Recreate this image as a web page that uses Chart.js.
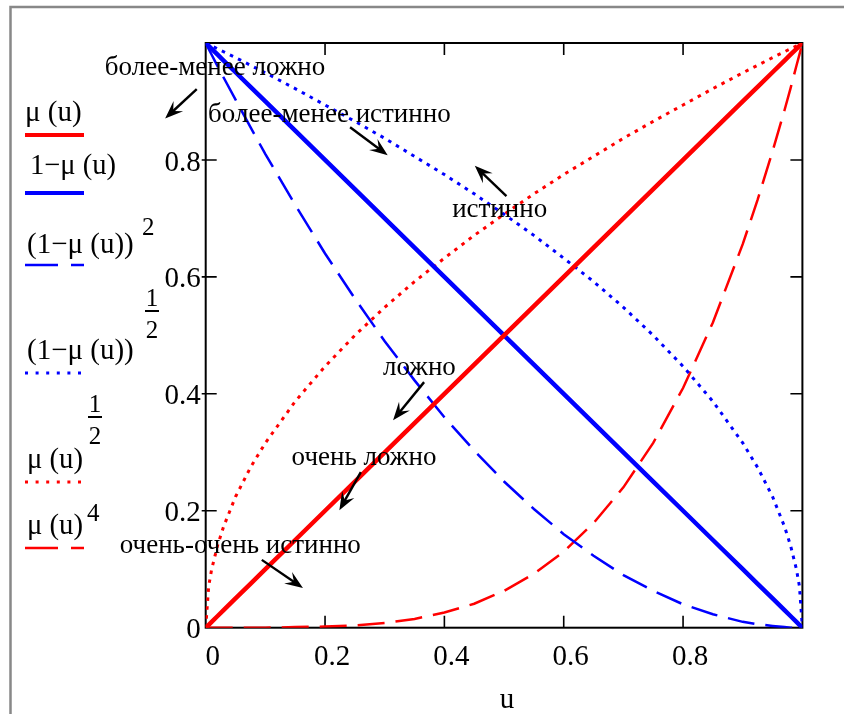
<!DOCTYPE html>
<html>
<head>
<meta charset="utf-8">
<script src="https://cdn.jsdelivr.net/npm/chart.js@4.4.1/dist/chart.umd.min.js"></script>
<style>
    body { margin: 0; background: #fff; }
    canvas { display: block; }
</style>
</head>
<body>
<canvas id="plot" width="844" height="714"></canvas>
<script>
// ===============================
// Data
// ===============================

const uValues = [0, 0.005, 0.01, 0.02, 0.03, 0.05, 0.075, 0.1, 0.15, 0.2, 0.25, 0.3, 0.35, 0.4, 0.45, 0.5,
    0.55, 0.6, 0.65, 0.7, 0.75, 0.8, 0.85, 0.9, 0.925, 0.95, 0.97, 0.98, 0.99, 0.995, 1];

const muValues = [0, 0.005, 0.01, 0.02, 0.03, 0.05, 0.075, 0.1, 0.15, 0.2, 0.25, 0.3, 0.35, 0.4, 0.45, 0.5,
    0.55, 0.6, 0.65, 0.7, 0.75, 0.8, 0.85, 0.9, 0.925, 0.95, 0.97, 0.98, 0.99, 0.995, 1];

const oneMinusMu = [1, 0.995, 0.99, 0.98, 0.97, 0.95, 0.925, 0.9, 0.85, 0.8, 0.75, 0.7, 0.65, 0.6, 0.55, 0.5,
    0.45, 0.4, 0.35, 0.3, 0.25, 0.2, 0.15, 0.1, 0.075, 0.05, 0.03, 0.02, 0.01, 0.005, 0];

const oneMinusMuSq = [1, 0.99, 0.98, 0.96, 0.941, 0.903, 0.856, 0.81, 0.723, 0.64, 0.563, 0.49, 0.423, 0.36, 0.303, 0.25,
    0.203, 0.16, 0.123, 0.09, 0.063, 0.04, 0.023, 0.01, 0.006, 0.003, 0.001, 0, 0, 0, 0];

const oneMinusMuSqrt = [1, 0.997, 0.995, 0.99, 0.985, 0.975, 0.962, 0.949, 0.922, 0.894, 0.866, 0.837, 0.806, 0.775, 0.742, 0.707,
    0.671, 0.632, 0.592, 0.548, 0.5, 0.447, 0.387, 0.316, 0.274, 0.224, 0.173, 0.141, 0.1, 0.071, 0];

const muSqrt = [0, 0.071, 0.1, 0.141, 0.173, 0.224, 0.274, 0.316, 0.387, 0.447, 0.5, 0.548, 0.592, 0.632, 0.671, 0.707,
    0.742, 0.775, 0.806, 0.837, 0.866, 0.894, 0.922, 0.949, 0.962, 0.975, 0.985, 0.99, 0.995, 0.997, 1];

const muPow4 = [0, 0, 0, 0, 0, 0, 0, 0, 0.001, 0.002, 0.004, 0.008, 0.015, 0.026, 0.041, 0.063,
    0.092, 0.13, 0.179, 0.24, 0.316, 0.41, 0.522, 0.656, 0.732, 0.815, 0.885, 0.922, 0.961, 0.98, 1];

const xTicks = [0, 0.2, 0.4, 0.6, 0.8];
const yTicks = [0, 0.2, 0.4, 0.6, 0.8];

// notes: text at (x, y) in axis units, arrow from tail to head
const notes = [
    { text: "более-менее ложно",   x: -0.169, y: 0.945, tail: [-0.015, 0.921], head: [-0.068, 0.871] },
    { text: "более-менее истинно", x: 0.004,  y: 0.865, tail: [0.242, 0.856],  head: [0.305, 0.808] },
    { text: "истинно",             x: 0.413,  y: 0.702, tail: [0.504, 0.738],  head: [0.451, 0.790] },
    { text: "ложно",               x: 0.297,  y: 0.432, tail: [0.366, 0.420],  head: [0.314, 0.355] },
    { text: "очень ложно",         x: 0.144,  y: 0.278, tail: [0.260, 0.266],  head: [0.224, 0.201] },
    { text: "очень-очень истинно", x: -0.144, y: 0.128, tail: [0.094, 0.116],  head: [0.163, 0.068] }
];

const RED = "#ff0000";
const BLUE = "#0000ff";
const SERIF = "'Liberation Serif', 'Times New Roman', serif";

function points(values){
    return uValues.map(function(u, i){ return { x: u, y: values[i] }; });
}

// ===============================
// Legend drawing (Mathcad style, left side)
// ===============================

function drawLegend(ctx, datasets){

    ctx.save();
    ctx.fillStyle = "#000";
    ctx.textBaseline = "alphabetic";
    ctx.textAlign = "left";

    const big = "29px " + SERIF;
    const small = "25px " + SERIF;

    function txt(s, x, y, font, w){
        ctx.font = font;
        if(w){
            ctx.fillText(s, x, y, w);
        }else{
            ctx.fillText(s, x, y);
        }
    }

    function frac(cx, y){
        ctx.font = small;
        ctx.textAlign = "center";
        ctx.fillText("1", cx, y);
        ctx.fillText("2", cx, y + 32);
        ctx.textAlign = "left";
        ctx.fillRect(cx - 7, y + 4, 14, 2);
    }

    txt("\u03bc (u)", 25, 121, big, 58);
    txt("1\u2212\u03bc (u)", 30, 174, big, 86);
    txt("(1\u2212\u03bc (u))", 27, 253, big, 111);
    txt("2", 142, 235, small);
    frac(152, 306);
    txt("(1\u2212\u03bc (u))", 27, 359, big, 111);
    frac(95, 412);
    txt("\u03bc (u)", 27, 468, big, 56);
    txt("\u03bc (u)", 27, 534, big, 56);
    txt("4", 87, 521, small);

    const lineY = [135, 193, 265, 373, 482, 548];

    datasets.forEach(function(ds, i){
        ctx.beginPath();
        ctx.strokeStyle = ds.borderColor;
        ctx.lineWidth = ds.legendWidth;
        ctx.setLineDash(ds.legendDash);
        ctx.moveTo(25, lineY[i]);
        ctx.lineTo(84, lineY[i]);
        ctx.stroke();
    });

    ctx.restore();
}

function drawArrow(ctx, x1, y1, x2, y2){
    const ang = Math.atan2(y2 - y1, x2 - x1);
    ctx.beginPath();
    ctx.moveTo(x1, y1);
    ctx.lineTo(x2 - Math.cos(ang) * 8, y2 - Math.sin(ang) * 8);
    ctx.stroke();
    ctx.save();
    ctx.translate(x2, y2);
    ctx.rotate(ang);
    ctx.beginPath();
    ctx.moveTo(0, 0);
    ctx.lineTo(-18, -7);
    ctx.lineTo(-11, 0);
    ctx.lineTo(-18, 7);
    ctx.closePath();
    ctx.fill();
    ctx.restore();
}

// ===============================
// Plugin: frame, ticks, labels
// ===============================

const mathcadPlugin = {

    id: "mathcad",

    beforeDatasetsDraw: function(chart){
        const ctx = chart.ctx;
        const a = chart.chartArea;
        const xs = chart.scales.x;
        const ys = chart.scales.y;

        ctx.save();
        ctx.strokeStyle = "#000";
        ctx.lineWidth = 2;
        ctx.strokeRect(a.left, a.top, a.right - a.left, a.bottom - a.top);

        ctx.lineWidth = 1.6;
        xTicks.slice(1).forEach(function(v){
            const x = xs.getPixelForValue(v);
            ctx.beginPath();
            ctx.moveTo(x, a.bottom); ctx.lineTo(x, a.bottom - 12);
            ctx.moveTo(x, a.top); ctx.lineTo(x, a.top + 12);
            ctx.stroke();
        });
        yTicks.slice(1).forEach(function(v){
            const y = ys.getPixelForValue(v);
            ctx.beginPath();
            ctx.moveTo(a.left - 4, y); ctx.lineTo(a.left + 11, y);
            ctx.moveTo(a.right, y); ctx.lineTo(a.right - 12, y);
            ctx.stroke();
        });
        ctx.restore();
    },

    afterDraw: function(chart){
        const ctx = chart.ctx;
        const a = chart.chartArea;
        const xs = chart.scales.x;
        const ys = chart.scales.y;

        ctx.save();

        // outer region border
        ctx.strokeStyle = "#888";
        ctx.lineWidth = 2.5;
        ctx.beginPath();
        ctx.moveTo(10.5, 714);
        ctx.lineTo(10.5, 7);
        ctx.lineTo(844, 7);
        ctx.stroke();

        // axis name
        ctx.fillStyle = "#000";
        ctx.font = "29px " + SERIF;
        ctx.textAlign = "center";
        ctx.textBaseline = "alphabetic";
        ctx.fillText("u", (a.left + a.right) / 2 + 3, 708);

        // notes with arrows
        ctx.font = "27px " + SERIF;
        ctx.textAlign = "left";
        ctx.strokeStyle = "#000";
        ctx.lineWidth = 2.4;
        notes.forEach(function(n){
            ctx.fillText(n.text, xs.getPixelForValue(n.x), ys.getPixelForValue(n.y));
            drawArrow(ctx,
                xs.getPixelForValue(n.tail[0]), ys.getPixelForValue(n.tail[1]),
                xs.getPixelForValue(n.head[0]), ys.getPixelForValue(n.head[1]));
        });

        ctx.restore();

        drawLegend(ctx, chart.data.datasets);
    }
};

// ===============================
// Chart
// ===============================

const seriesList = [
    { values: muValues,       color: RED,  width: 4.5, dash: [],      legendWidth: 4,   legendDash: [] },
    { values: oneMinusMu,     color: BLUE, width: 4.5, dash: [],      legendWidth: 4,   legendDash: [] },
    { values: oneMinusMuSq,   color: BLUE, width: 2.5, dash: [27, 11], legendWidth: 2.5, legendDash: [33, 13] },
    { values: oneMinusMuSqrt, color: BLUE, width: 3,   dash: [3.5, 5.5], legendWidth: 3,   legendDash: [3, 7.6] },
    { values: muSqrt,         color: RED,  width: 3,   dash: [3.5, 5.5], legendWidth: 3,   legendDash: [3, 7.6] },
    { values: muPow4,         color: RED,  width: 2.5, dash: [27, 11], legendWidth: 2.5, legendDash: [33, 13] }
];

const tickFont = { family: SERIF, size: 29 };

new Chart(document.getElementById("plot"), {

    type: "scatter",

    data: {
        datasets: seriesList.map(function(s){
            return {
                data: points(s.values),
                showLine: true,
                pointRadius: 0,
                borderColor: s.color,
                backgroundColor: s.color,
                borderWidth: s.width,
                borderDash: s.dash,
                borderCapStyle: "butt",
                legendWidth: s.legendWidth,
                legendDash: s.legendDash,
                tension: 0
            };
        })
    },

    options: {
        responsive: false,
        animation: false,
        devicePixelRatio: 1,
        layout: {
            padding: { top: 43, right: 41.6, left: 0, bottom: 0 }
        },
        plugins: {
            legend: { display: false },
            tooltip: { enabled: false }
        },
        scales: {
            x: {
                type: "linear",
                min: 0,
                max: 1,
                afterBuildTicks: function(s){ s.ticks = xTicks.map(function(v){ return { value: v }; }); },
                afterFit: function(s){ s.height = 86.3; },
                grid: { display: false, drawTicks: false },
                border: { display: false },
                ticks: {
                    font: tickFont,
                    color: "#000",
                    padding: 12,
                    labelOffset: 7,
                    maxRotation: 0,
                    autoSkip: false,
                    callback: function(v){ return String(v); }
                }
            },
            y: {
                type: "linear",
                min: 0,
                max: 1,
                afterBuildTicks: function(s){ s.ticks = yTicks.map(function(v){ return { value: v }; }); },
                afterFit: function(s){ s.width = 205.7; },
                grid: { display: false, drawTicks: false },
                border: { display: false },
                ticks: {
                    font: tickFont,
                    color: "#000",
                    padding: 5,
                    labelOffset: 3,
                    autoSkip: false,
                    callback: function(v){ return String(v); }
                }
            }
        }
    },

    plugins: [mathcadPlugin]
});
</script>
</body>
</html>
